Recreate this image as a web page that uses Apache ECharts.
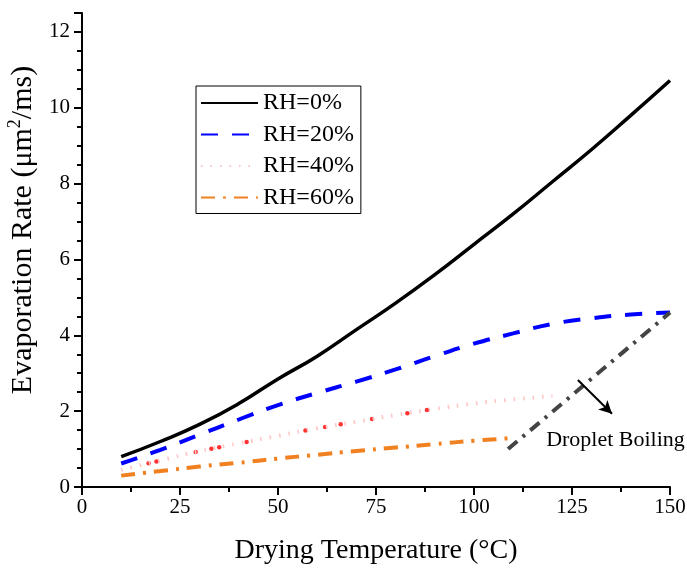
<!DOCTYPE html>
<html>
<head>
<meta charset="utf-8">
<script src="https://cdn.jsdelivr.net/npm/echarts@6/dist/echarts.min.js"></script>
<style>html,body{margin:0;padding:0;background:#fff}#c{width:687px;height:568px}</style>
</head>
<body>
<div id="c"></div>
<script>
var temps = [10,20,30,40,50,60,70,80,90,100,110,120,130,140,150];
var rh0  = [0.80,1.20,1.65,2.20,2.85,3.45,4.15,4.85,5.60,6.40,7.20,8.05,8.90,9.80,10.72];
var rh20 = [0.62,0.98,1.38,1.78,2.16,2.48,2.78,3.10,3.45,3.78,4.05,4.30,4.45,4.55,4.60];
var temps40 = [10,20,30,40,50,60,70,80,90,100,110,120];
var rh40 = [0.45,0.70,0.95,1.15,1.35,1.55,1.72,1.90,2.06,2.20,2.31,2.40];
var temps60 = [10,20,30,40,50,60,70,80,90,100,110];
var rh60 = [0.30,0.42,0.54,0.64,0.75,0.85,0.95,1.04,1.13,1.22,1.29];
var rh40DotsT = [17,19,29,33,35,42,57,62,66,74,83,88];
var boilT = [108.7,150];
var boilV = [1.0,4.6];
var arrowFrom = [126.5,2.82];
var arrowTo = [135.2,1.93];
var labelPos = [118.4,1.24];
var xTicks = [0,25,50,75,100,125,150];
var yTicks = [0,2,4,6,8,10,12];

function interp(xs, ys, x){
  for (var i=0;i<xs.length-1;i++){
    if (x>=xs[i] && x<=xs[i+1]){
      var t=(x-xs[i])/(xs[i+1]-xs[i]);
      return ys[i]+t*(ys[i+1]-ys[i]);
    }
  }
  return ys[ys.length-1];
}
function pairs(xs, ys){ return xs.map(function(x,i){return [x,ys[i]];}); }

var font = '"Liberation Serif","Times New Roman",serif';
var chart = echarts.init(document.getElementById('c'));
chart.setOption({
  animation:false,
  grid:{left:82,right:17,top:13,bottom:81,containLabel:false,outerBoundsMode:'none'},
  legend:{
    data:['RH=0%','RH=20%','RH=40%','RH=60%'],
    orient:'vertical', left:196, top:86,
    borderColor:'#000', borderWidth:1, borderRadius:0,
    padding:[5,7,4,4],
    itemWidth:57, itemHeight:20, itemGap:7.5,
    itemStyle:{opacity:0},
    textStyle:{fontFamily:font,fontSize:24,lineHeight:24,color:'#000'}
  },
  xAxis:{
    type:'value', min:0, max:150, interval:25,
    name:'Drying Temperature (°C)', nameLocation:'middle', nameGap:50,
    nameTextStyle:{fontFamily:font,fontSize:28,color:'#000'},
    axisLine:{lineStyle:{color:'#000',width:2}},
    axisTick:{inside:false,length:8,lineStyle:{width:2,color:'#000'}},
    minorTick:{show:true,splitNumber:2,length:5,lineStyle:{width:2,color:'#000'}},
    axisLabel:{fontFamily:font,fontSize:21,color:'#000',margin:10,
      formatter:function(v){return xTicks.indexOf(v)>=0?String(v):'';}},
    splitLine:{show:false}
  },
  yAxis:{
    type:'value', min:0, max:12.5, interval:2,
    name:'{a|Evaporation Rate (μm}{s|2}{a|/ms)}', nameLocation:'middle', nameGap:39,
    nameTextStyle:{fontFamily:font,fontSize:30,color:'#000',padding:[0,0,0,40],
      rich:{a:{fontFamily:font,fontSize:30,lineHeight:34,color:'#000'},
            s:{fontFamily:font,fontSize:18,lineHeight:34,verticalAlign:'top',padding:[0,0,14,0],color:'#000'}}},
    axisLine:{show:true,lineStyle:{color:'#000',width:2}},
    axisTick:{inside:false,length:8,lineStyle:{width:2,color:'#000'}},
    minorTick:{show:true,splitNumber:4,length:5,lineStyle:{width:2,color:'#000'}},
    axisLabel:{fontFamily:font,fontSize:21,color:'#000',margin:12,
      formatter:function(v){return yTicks.indexOf(v)>=0?String(v):'';}},
    splitLine:{show:false}
  },
  series:[
    {name:'RH=0%',type:'line',smooth:true,symbol:'none',data:pairs(temps,rh0),
     lineStyle:{color:'#000',width:3.5},itemStyle:{color:'#000'}},
    {name:'RH=20%',type:'line',smooth:true,symbol:'none',data:pairs(temps,rh20),
     lineStyle:{color:'#0000ff',width:4,type:[17,14]},itemStyle:{color:'#0000ff'}},
    {name:'RH=40%',type:'line',smooth:true,symbol:'none',data:pairs(temps40,rh40),
     lineStyle:{color:'#ffc4c4',width:4,type:[1.5,8]},itemStyle:{color:'#ffc4c4'}},
    {name:'RH=40% pts',type:'scatter',symbol:'circle',symbolSize:4.5,
     data:rh40DotsT.map(function(t){return [t,interp(temps40,rh40,t)];}),
     itemStyle:{color:'#ff0000'},silent:true},
    {name:'RH=60%',type:'line',smooth:true,symbol:'none',data:pairs(temps60,rh60),
     lineStyle:{color:'#f08020',width:4,type:[14,8,3,8]},itemStyle:{color:'#f08020'}},
    {name:'Boiling',type:'line',symbol:'none',data:pairs(boilT,boilV),
     lineStyle:{color:'#444',width:4,type:[12,7,3,7]},itemStyle:{color:'#444'},
     markLine:{silent:true,symbol:['none','arrow'],symbolSize:[10,13],
       lineStyle:{color:'#000',width:2,type:'solid'},label:{show:false},
       data:[[{coord:arrowFrom},{coord:arrowTo}]]},
     markPoint:{silent:true,symbol:'circle',symbolSize:0,
       data:[{coord:labelPos,label:{show:true,position:'right',distance:0,formatter:'Droplet Boiling',
         fontFamily:font,fontSize:22,color:'#000'}}]}
    }
  ]
});
</script>
</body>
</html>
